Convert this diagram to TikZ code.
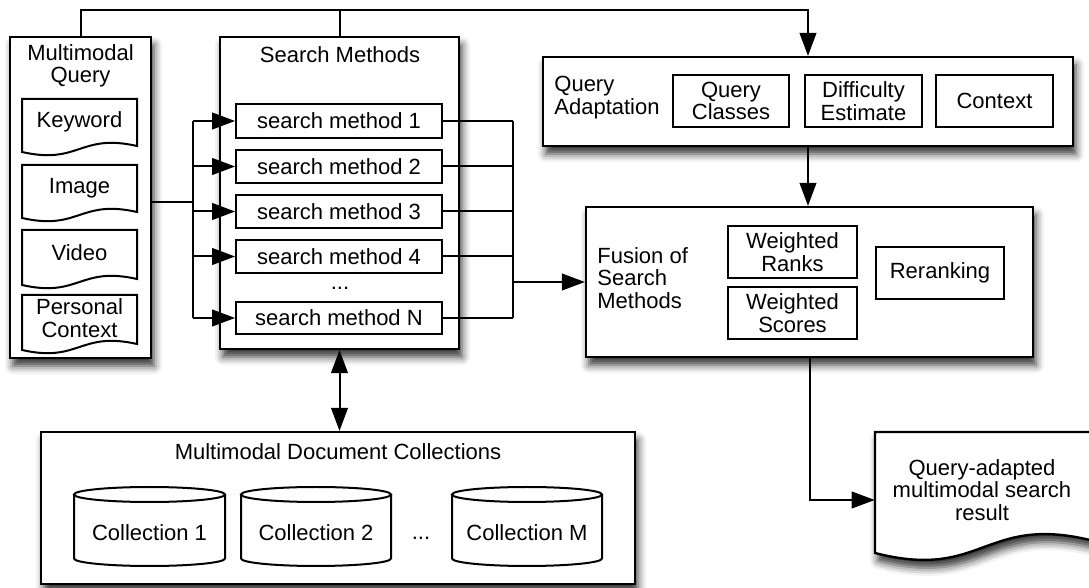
\documentclass[tikz,border=0pt]{standalone}
\usepackage{fontspec}
\setmainfont{Liberation Sans}
\usetikzlibrary{arrows.meta,fit,shadows.blur,calc}
\newcommand{\docshape}[6]{% L T R B d k
  \draw[docst] (#1,-#2) -- (#3,-#2) -- (#3,{-(#4-#5)})
    .. controls ({(#1+#3)/2},{-(#4-#5-#6)}) and ({(#1+#3)/2},{-(#4+#6)}) .. (#1,-#4) -- cycle;}
\newcommand{\cylshape}[2]{% left x, right x
  \draw[cylst] (#1,-494.5) -- (#1,-558.5)
    arc[start angle=180,end angle=360,x radius={(#2-#1)/2},y radius=7.5] -- (#2,-494.5);
  \draw[cylst] ({(#1+#2)/2},-494.5) ellipse[x radius={(#2-#1)/2},y radius=7.5];}
\begin{document}
\begin{tikzpicture}[x=0.5pt,y=0.5pt,
  font=\fontsize{11}{11.2}\selectfont,
  shad/.style={blur shadow={shadow xshift=1.5pt,shadow yshift=-4pt,shadow blur radius=4pt,shadow opacity=80}},
  bigbox/.style={draw,line width=1.2pt,fill=white,inner sep=0pt,shad},
  inbox/.style={draw,line width=1pt,fill=white,inner sep=0pt},
  docst/.style={draw,line width=1pt,fill=white},
  cylst/.style={draw,line width=1pt},
  conn/.style={line width=1pt},
  tip/.tip={Triangle[length=11.5pt,width=8.5pt,fill=black,line width=0.5pt]},
  arr/.style={conn,-tip},
  darr/.style={conn,tip-tip},
  lbl/.style={inner sep=0pt,align=center},
]
\useasboundingbox (0,0) rectangle (1089,-588);

% Multimodal Query
\node[bigbox, fit={(10,-37)(151,-358)}] (mq) {};
\node[lbl] (mqt) at (80.5,-66) {Multimodal\\Query};
\docshape{22}{99}{137}{152}{6}{13}
\node[lbl] (kw) at (79.5,-122) {Keyword};
\docshape{22}{165}{137}{218}{6}{13}
\node[lbl] (im) at (79.5,-188) {Image};
\docshape{22}{230}{137}{285}{6}{13}
\node[lbl] (vi) at (79.5,-253) {Video};
\docshape{22}{295}{137}{350}{6}{13}
\node[lbl] (pc) at (79.5,-318) {Personal\\Context};

% Search Methods
\node[bigbox, fit={(220,-37)(459,-349)}] (sm) {};
\node[lbl] (smt) at (340,-55) {Search Methods};
\node[inbox, fit={(236,-104)(442,-138)}] (sm1) {};
\node[lbl] (sm1t) at (sm1.center) {search method 1};
\node[inbox, fit={(236,-150)(442,-183)}] (sm2) {};
\node[lbl] (sm2t) at (sm2.center) {search method 2};
\node[inbox, fit={(236,-195)(442,-228)}] (sm3) {};
\node[lbl] (sm3t) at (sm3.center) {search method 3};
\node[inbox, fit={(236,-240)(442,-273)}] (sm4) {};
\node[lbl] (sm4t) at (sm4.center) {search method 4};
\node[lbl] (smdots) at (340,-288) {...};
\node[inbox, fit={(236,-302)(442,-334)}] (smN) {};
\node[lbl] (smNt) at (smN.center) {search method N};

% Query Adaptation
\node[bigbox, fit={(543,-57)(1073,-146)}] (qa) {};
\node[lbl, align=left, anchor=west] (qat) at (554,-97.5) {Query\\Adaptation};
\node[inbox, fit={(673,-75)(789,-127)}] (qc) {};
\node[lbl] (qct) at (qc.center) {Query\\Classes};
\node[inbox, fit={(805,-75)(922,-127)}] (de) {};
\node[lbl] (det) at (de.center) {Difficulty\\Estimate};
\node[inbox, fit={(936,-75)(1053,-127)}] (cx) {};
\node[lbl] (cxt) at (cx.center) {Context};

% Fusion
\node[bigbox, fit={(586,-207)(1033,-357)}] (fu) {};
\node[lbl, align=left, anchor=west] (fut) at (597,-278) {Fusion of\\Search\\Methods};
\node[inbox, fit={(728,-226)(857,-278)}] (wr) {};
\node[lbl] (wrt) at (wr.center) {Weighted\\Ranks};
\node[inbox, fit={(728,-287)(857,-339)}] (ws) {};
\node[lbl] (wst) at (ws.center) {Weighted\\Scores};
\node[inbox, fit={(876,-247)(1004,-299)}] (rr) {};
\node[lbl] (rrt) at (rr.center) {Reranking};

% Document collections
\node[bigbox, fit={(41,-432)(635,-584)}] (dc) {};
\node[lbl] (dct) at (338,-452) {Multimodal Document Collections};
\cylshape{74}{225}
\node[lbl] (c1) at (149.5,-533) {Collection 1};
\cylshape{241}{391}
\node[lbl] (c2) at (316,-533) {Collection 2};
\node[lbl] (cdots) at (421,-538) {...};
\cylshape{452}{602}
\node[lbl] (cM) at (527,-533) {Collection M};

% Result document
\path[draw,line width=1.2pt,fill=white,shad] (875,-432) -- (1094,-432) -- (1094,-541)
   .. controls (984,-513) and (984,-581) .. (875,-553) -- cycle;
\node[inner sep=0pt, fit={(875,-432)(1094,-568)}] (res) {};
\node[lbl] (rest) at (982,-490) {Query-adapted\\multimodal search\\result};

% Connectors
\coordinate (top) at (0,-10);
\draw[arr] (mq.north) |- (top -| qa.north) -- (qa.north);
\draw[conn] (sm.north) -- (top -| sm.north);
\coordinate (busL) at (193,-202);
\draw[conn] (mq.east |- busL) -- (busL);
\draw[conn] (busL |- sm1.west) -- (busL |- smN.west);
\foreach \n in {sm1,sm2,sm3,sm4,smN} \draw[arr] (busL |- \n.west) -- (\n.west);
\coordinate (busR) at (513,-282);
\foreach \n in {sm1,sm2,sm3,sm4,smN} \draw[conn] (\n.east) -- (busR |- \n.east);
\draw[conn] (busR |- sm1.east) -- (busR |- smN.east);
\draw[arr] (busR) -- (busR -| fu.west);
\draw[arr] (qa.south) -- (qa.south |- fu.north);
\draw[arr] (fu.south) |- (res.west);
\draw[darr] (sm.south) -- (sm.south |- dc.north);
\end{tikzpicture}
\end{document}
